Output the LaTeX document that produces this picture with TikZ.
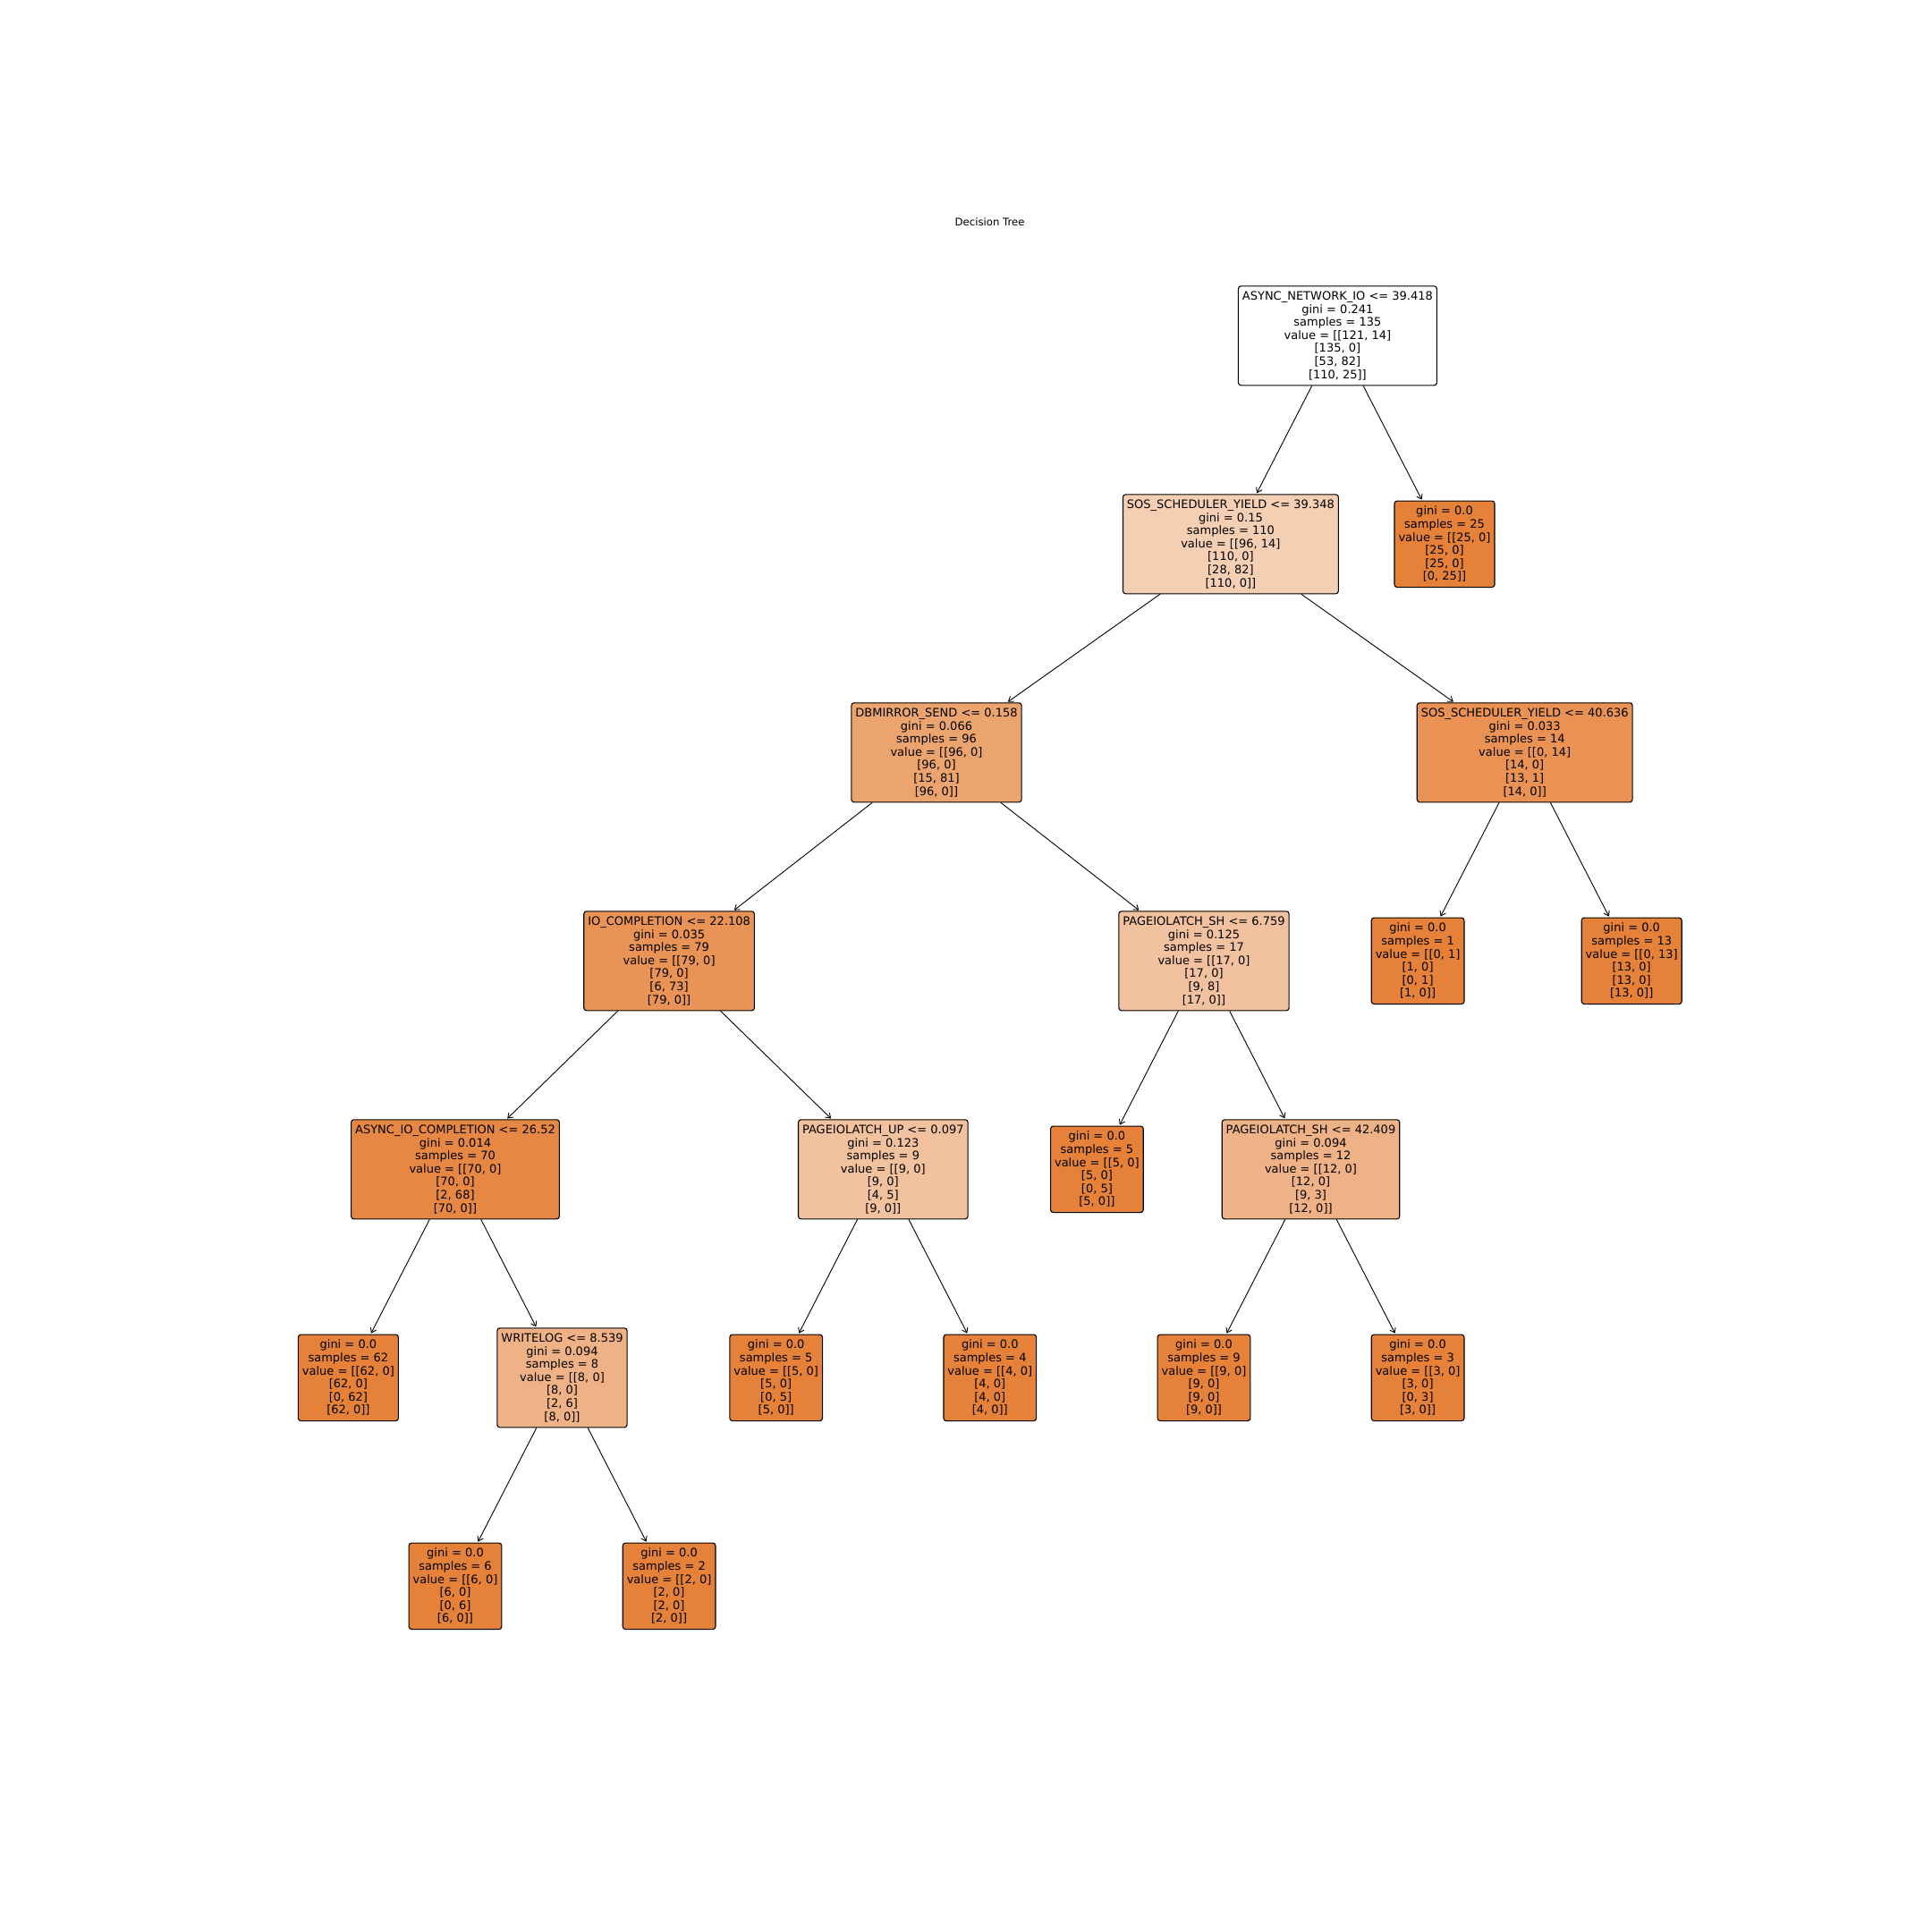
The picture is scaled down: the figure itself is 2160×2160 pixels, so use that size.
\documentclass[tikz,border=0pt]{standalone}
\usepackage{fontspec}
\setmainfont{DejaVu Sans}
\usetikzlibrary{arrows.meta}
\definecolor{cw}{RGB}{255,255,255}
\definecolor{ca}{RGB}{245,207,180}
\definecolor{cb}{RGB}{236,164,111}
\definecolor{cc}{RGB}{233,146,84}
\definecolor{cd}{RGB}{233,147,86}
\definecolor{ce}{RGB}{242,194,160}
\definecolor{cf}{RGB}{242,193,158}
\definecolor{cg}{RGB}{239,178,134}
\definecolor{ch}{RGB}{230,136,68}
\definecolor{cleaf}{RGB}{229,129,57}
\tikzset{
  treenode/.style={draw=black, line width=1.1pt, rounded corners=3pt, align=center,
    inner xsep=4.5pt, inner ysep=4pt, font=\fontsize{13}{14.6}\selectfont, text=black},
  split/.style={treenode, minimum height=111pt},
  leafnode/.style={treenode, minimum height=96.5pt, fill=cleaf},
  edge/.style={line width=0.9pt, -{Straight Barb[length=5pt,width=7pt]}, shorten >=1pt}
}
\begin{document}
\begin{tikzpicture}[x=1pt,y=-1pt]
\useasboundingbox (0,0) rectangle (2160,2160);
\node[font=\fontsize{11.7}{14}\selectfont] (title) at (1106.6,248.5) {Decision Tree};
% row 0
\node[split, fill=cw] (root) at (1495.4,375.3) {ASYNC\_NETWORK\_IO <= 39.418\\gini = 0.241\\samples = 135\\value = [[121, 14]\\{}[135, 0]\\{}[53, 82]\\{}[110, 25]]};
% row 1
\node[split, fill=ca] (sos1) at (1375.9,608.3) {SOS\_SCHEDULER\_YIELD <= 39.348\\gini = 0.15\\samples = 110\\value = [[96, 14]\\{}[110, 0]\\{}[28, 82]\\{}[110, 0]]};
\node[leafnode] (leafA) at (1615.0,608.3) {gini = 0.0\\samples = 25\\value = [[25, 0]\\{}[25, 0]\\{}[25, 0]\\{}[0, 25]]};
% row 2
\node[split, fill=cb] (dbm) at (1047.0,841.3) {DBMIRROR\_SEND <= 0.158\\gini = 0.066\\samples = 96\\value = [[96, 0]\\{}[96, 0]\\{}[15, 81]\\{}[96, 0]]};
\node[split, fill=cc] (sos2) at (1704.7,841.3) {SOS\_SCHEDULER\_YIELD <= 40.636\\gini = 0.033\\samples = 14\\value = [[0, 14]\\{}[14, 0]\\{}[13, 1]\\{}[14, 0]]};
% row 3
\node[split, fill=cd] (io) at (748.1,1074.3) {IO\_COMPLETION <= 22.108\\gini = 0.035\\samples = 79\\value = [[79, 0]\\{}[79, 0]\\{}[6, 73]\\{}[79, 0]]};
\node[split, fill=ce] (pgsh1) at (1346.0,1074.3) {PAGEIOLATCH\_SH <= 6.759\\gini = 0.125\\samples = 17\\value = [[17, 0]\\{}[17, 0]\\{}[9, 8]\\{}[17, 0]]};
\node[leafnode] (leafB) at (1585.1,1074.3) {gini = 0.0\\samples = 1\\value = [[0, 1]\\{}[1, 0]\\{}[0, 1]\\{}[1, 0]]};
\node[leafnode] (leafC) at (1824.2,1074.3) {gini = 0.0\\samples = 13\\value = [[0, 13]\\{}[13, 0]\\{}[13, 0]\\{}[13, 0]]};
% row 4
\node[split, fill=ch] (aio) at (509.0,1307.3) {ASYNC\_IO\_COMPLETION <= 26.52\\gini = 0.014\\samples = 70\\value = [[70, 0]\\{}[70, 0]\\{}[2, 68]\\{}[70, 0]]};
\node[split, fill=cf] (pgup) at (987.3,1307.3) {PAGEIOLATCH\_UP <= 0.097\\gini = 0.123\\samples = 9\\value = [[9, 0]\\{}[9, 0]\\{}[4, 5]\\{}[9, 0]]};
\node[leafnode] (leafD) at (1226.4,1307.3) {gini = 0.0\\samples = 5\\value = [[5, 0]\\{}[5, 0]\\{}[0, 5]\\{}[5, 0]]};
\node[split, fill=cg] (pgsh2) at (1465.5,1307.3) {PAGEIOLATCH\_SH <= 42.409\\gini = 0.094\\samples = 12\\value = [[12, 0]\\{}[12, 0]\\{}[9, 3]\\{}[12, 0]]};
% row 5
\node[leafnode] (leafE) at (389.4,1540.3) {gini = 0.0\\samples = 62\\value = [[62, 0]\\{}[62, 0]\\{}[0, 62]\\{}[62, 0]]};
\node[split, fill=cg] (wlog) at (628.5,1540.3) {WRITELOG <= 8.539\\gini = 0.094\\samples = 8\\value = [[8, 0]\\{}[8, 0]\\{}[2, 6]\\{}[8, 0]]};
\node[leafnode] (leafF) at (867.7,1540.3) {gini = 0.0\\samples = 5\\value = [[5, 0]\\{}[5, 0]\\{}[0, 5]\\{}[5, 0]]};
\node[leafnode] (leafG) at (1106.8,1540.3) {gini = 0.0\\samples = 4\\value = [[4, 0]\\{}[4, 0]\\{}[4, 0]\\{}[4, 0]]};
\node[leafnode] (leafH) at (1346.0,1540.3) {gini = 0.0\\samples = 9\\value = [[9, 0]\\{}[9, 0]\\{}[9, 0]\\{}[9, 0]]};
\node[leafnode] (leafI) at (1585.1,1540.3) {gini = 0.0\\samples = 3\\value = [[3, 0]\\{}[3, 0]\\{}[0, 3]\\{}[3, 0]]};
% row 6
\node[leafnode] (leafJ) at (509.0,1773.3) {gini = 0.0\\samples = 6\\value = [[6, 0]\\{}[6, 0]\\{}[0, 6]\\{}[6, 0]]};
\node[leafnode] (leafK) at (748.1,1773.3) {gini = 0.0\\samples = 2\\value = [[2, 0]\\{}[2, 0]\\{}[2, 0]\\{}[2, 0]]};
% edges
\draw[edge] (root) -- (sos1);
\draw[edge] (root) -- (leafA);
\draw[edge] (sos1) -- (dbm);
\draw[edge] (sos1) -- (sos2);
\draw[edge] (dbm) -- (io);
\draw[edge] (dbm) -- (pgsh1);
\draw[edge] (sos2) -- (leafB);
\draw[edge] (sos2) -- (leafC);
\draw[edge] (io) -- (aio);
\draw[edge] (io) -- (pgup);
\draw[edge] (pgsh1) -- (leafD);
\draw[edge] (pgsh1) -- (pgsh2);
\draw[edge] (aio) -- (leafE);
\draw[edge] (aio) -- (wlog);
\draw[edge] (pgup) -- (leafF);
\draw[edge] (pgup) -- (leafG);
\draw[edge] (pgsh2) -- (leafH);
\draw[edge] (pgsh2) -- (leafI);
\draw[edge] (wlog) -- (leafJ);
\draw[edge] (wlog) -- (leafK);
\end{tikzpicture}
\end{document}
